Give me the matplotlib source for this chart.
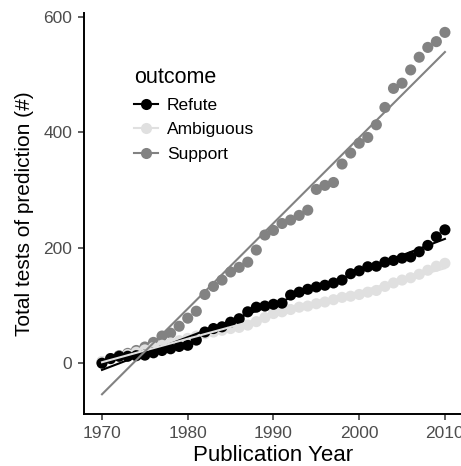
import matplotlib
matplotlib.use("Agg")
import matplotlib.pyplot as plt
from matplotlib.lines import Line2D
import numpy as np

plt.rcParams['font.family'] = ['Liberation Sans', 'DejaVu Sans']

years = np.arange(1970, 2011)

refute = [0, 8, 12, 12, 13, 14, 18, 22, 25, 29,
          31, 40, 54, 60, 63, 71, 77, 89, 97, 99,
          102, 104, 118, 123, 128, 132, 135, 139, 144, 155,
          160, 167, 168, 175, 178, 182, 184, 193, 204, 219,
          231]
ambiguous = [3, 8, 12, 15, 19, 23, 27, 31, 35, 39,
             43, 47, 51, 54, 57, 60, 62, 66, 72, 79,
             86, 89, 93, 97, 99, 103, 106, 110, 114, 116,
             119, 123, 126, 133, 139, 144, 148, 154, 161, 168,
             173]
support = [2, 8, 13, 17, 22, 28, 36, 47, 52, 64,
           78, 90, 119, 133, 144, 158, 166, 175, 196, 222,
           230, 242, 248, 256, 265, 301, 308, 313, 345, 364,
           381, 391, 413, 443, 476, 485, 508, 530, 547, 557,
           573]

outcomes = ["Refute", "Ambiguous", "Support"]
series = {"Refute": refute, "Ambiguous": ambiguous, "Support": support}
colors = {"Refute": "#000000", "Ambiguous": "#E0E0E0", "Support": "#828282"}

fig = plt.figure(figsize=(4.61, 4.66), dpi=100)
ax = fig.add_axes([0.1822, 0.1116, 0.822, 0.861])

# points
for name in ["Support", "Ambiguous", "Refute"]:
    ax.scatter(years, series[name], s=64, color=colors[name], edgecolors='none', zorder=2)

# linear fits
for name in outcomes:
    k, b = np.polyfit(years, series[name], 1)
    ax.plot(years, k * years + b, color=colors[name], lw=1.5, zorder=3)

ax.set_xlim(1967.9, 2012.1)
ax.set_ylim(-88, 607)
ax.set_xticks([1970, 1980, 1990, 2000, 2010])
ax.set_yticks([0, 200, 400, 600])

for side in ["top", "right"]:
    ax.spines[side].set_visible(False)
for side in ["left", "bottom"]:
    ax.spines[side].set_linewidth(1.4)
ax.tick_params(axis='both', labelsize=12.5, labelcolor='#4D4D4D', length=4.5, width=1.1,
               color='#333333', pad=4)

ax.set_xlabel("Publication Year", fontsize=16, labelpad=3)
ax.set_ylabel("Total tests of prediction (#)", fontsize=15, labelpad=7)

handles = [Line2D([0], [0], color=colors[n], lw=1.5, marker='o', markersize=8,
                  markeredgecolor='none') for n in outcomes]
leg = ax.legend(handles, outcomes, title="outcome", loc='upper left',
                bbox_to_anchor=(0.10, 0.895), frameon=False, fontsize=12.5,
                title_fontsize=15.5, handlelength=1.4, handletextpad=0.5,
                labelspacing=0.55, borderpad=0.2)
leg._legend_box.align = "left"

fig.savefig("out.png", dpi=100)
